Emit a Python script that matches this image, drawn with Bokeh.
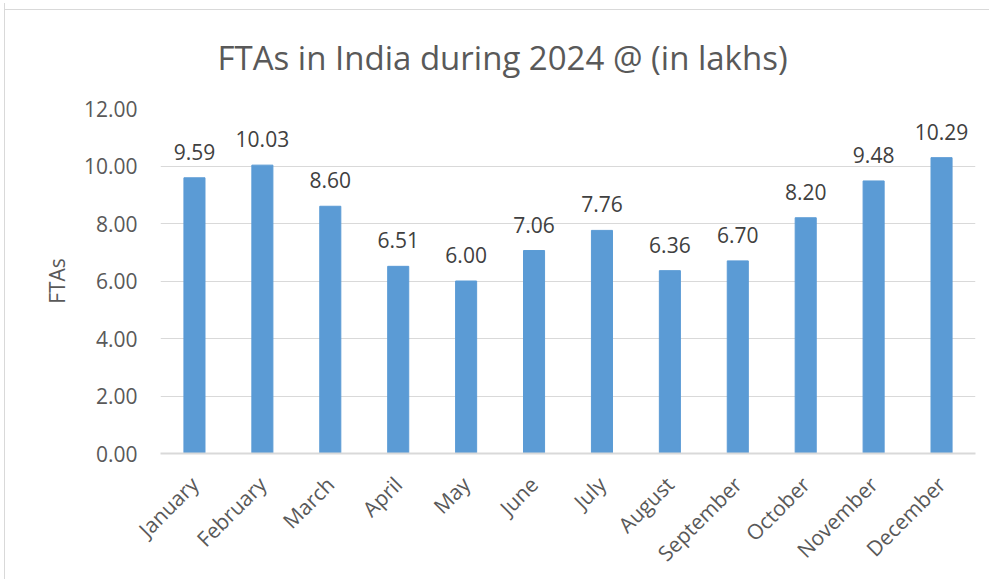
from bokeh.plotting import figure
from bokeh.models import FactorRange, Range1d, FixedTicker, NumeralTickFormatter, ColumnDataSource
from bokeh.embed import file_html
from bokeh.resources import INLINE
from bokeh.core.properties import value
import math

months = ["January", "February", "March", "April", "May", "June", "July",
          "August", "September", "October", "November", "December"]
ftas = [9.59, 10.03, 8.60, 6.51, 6.00, 7.06, 7.76, 6.36, 6.70, 8.20, 9.48, 10.29]
y_ticks = [0, 2, 4, 6, 8, 10, 12]

FONT = "Open Sans"
GREY = "#595959"

src = ColumnDataSource(dict(m=months, v=ftas, lbl=["%.2f" % v for v in ftas]))

p = figure(width=985, height=576, output_backend="svg", toolbar_location=None,
           x_range=FactorRange(*months, range_padding=0), y_range=Range1d(0, 12),
           min_border_left=156, min_border_right=14, min_border_top=105, min_border_bottom=122)

p.title.text = "FTAs in India during 2024 @ (in lakhs)"
p.title.align = "left"
p.title.offset = 57
p.title.text_font = FONT
p.title.text_font_size = "33px"
p.title.text_font_style = "normal"
p.title.text_color = GREY
p.title.standoff = 58

p.vbar(x="m", top="v", width=0.31, source=src, color="#5b9bd5")
p.text(x="m", y="v", text="lbl", source=src, text_align="center", text_baseline="bottom",
       y_offset=-18, text_font=value(FONT), text_font_size="21px", text_color="#404040")

p.border_fill_color = None
p.background_fill_color = "white"
p.outline_line_color = None
p.xgrid.grid_line_color = None
p.ygrid.grid_line_color = "#d9d9d9"
p.ygrid.grid_line_width = 1

p.yaxis.ticker = FixedTicker(ticks=y_ticks)
p.yaxis.formatter = NumeralTickFormatter(format="0.00")
p.yaxis.axis_line_color = None
p.yaxis.major_tick_line_color = None
p.yaxis.minor_tick_line_color = None
p.yaxis.major_label_text_font = FONT
p.yaxis.major_label_text_font_size = "21px"
p.yaxis.major_label_text_color = GREY
p.yaxis.major_label_standoff = 17
p.yaxis.axis_label = "FTAs"
p.yaxis.axis_label_text_font = FONT
p.yaxis.axis_label_text_font_size = "21px"
p.yaxis.axis_label_text_font_style = "normal"
p.yaxis.axis_label_text_color = GREY
p.yaxis.axis_label_standoff = 10

p.xaxis.axis_line_color = "#d9d9d9"
p.xaxis.axis_line_width = 2
p.xaxis.major_tick_line_color = None
p.xaxis.minor_tick_line_color = None
p.xaxis.major_label_orientation = math.pi / 4
p.xaxis.major_label_text_font = FONT
p.xaxis.major_label_text_font_size = "21px"
p.xaxis.major_label_text_color = GREY
p.xaxis.major_label_standoff = 21

p.styles = {"margin-left": "4px", "margin-top": "3px",
            "background": "linear-gradient(to bottom, #ffffff 0px, #ffffff 6px, #d9d9d9 6px, #d9d9d9 7px, #ffffff 7px, #ffffff 100%)",
            "box-shadow": "inset 1px 0 0 0 #d9d9d9"}

open("out.html", "w").write(file_html(p, INLINE))
